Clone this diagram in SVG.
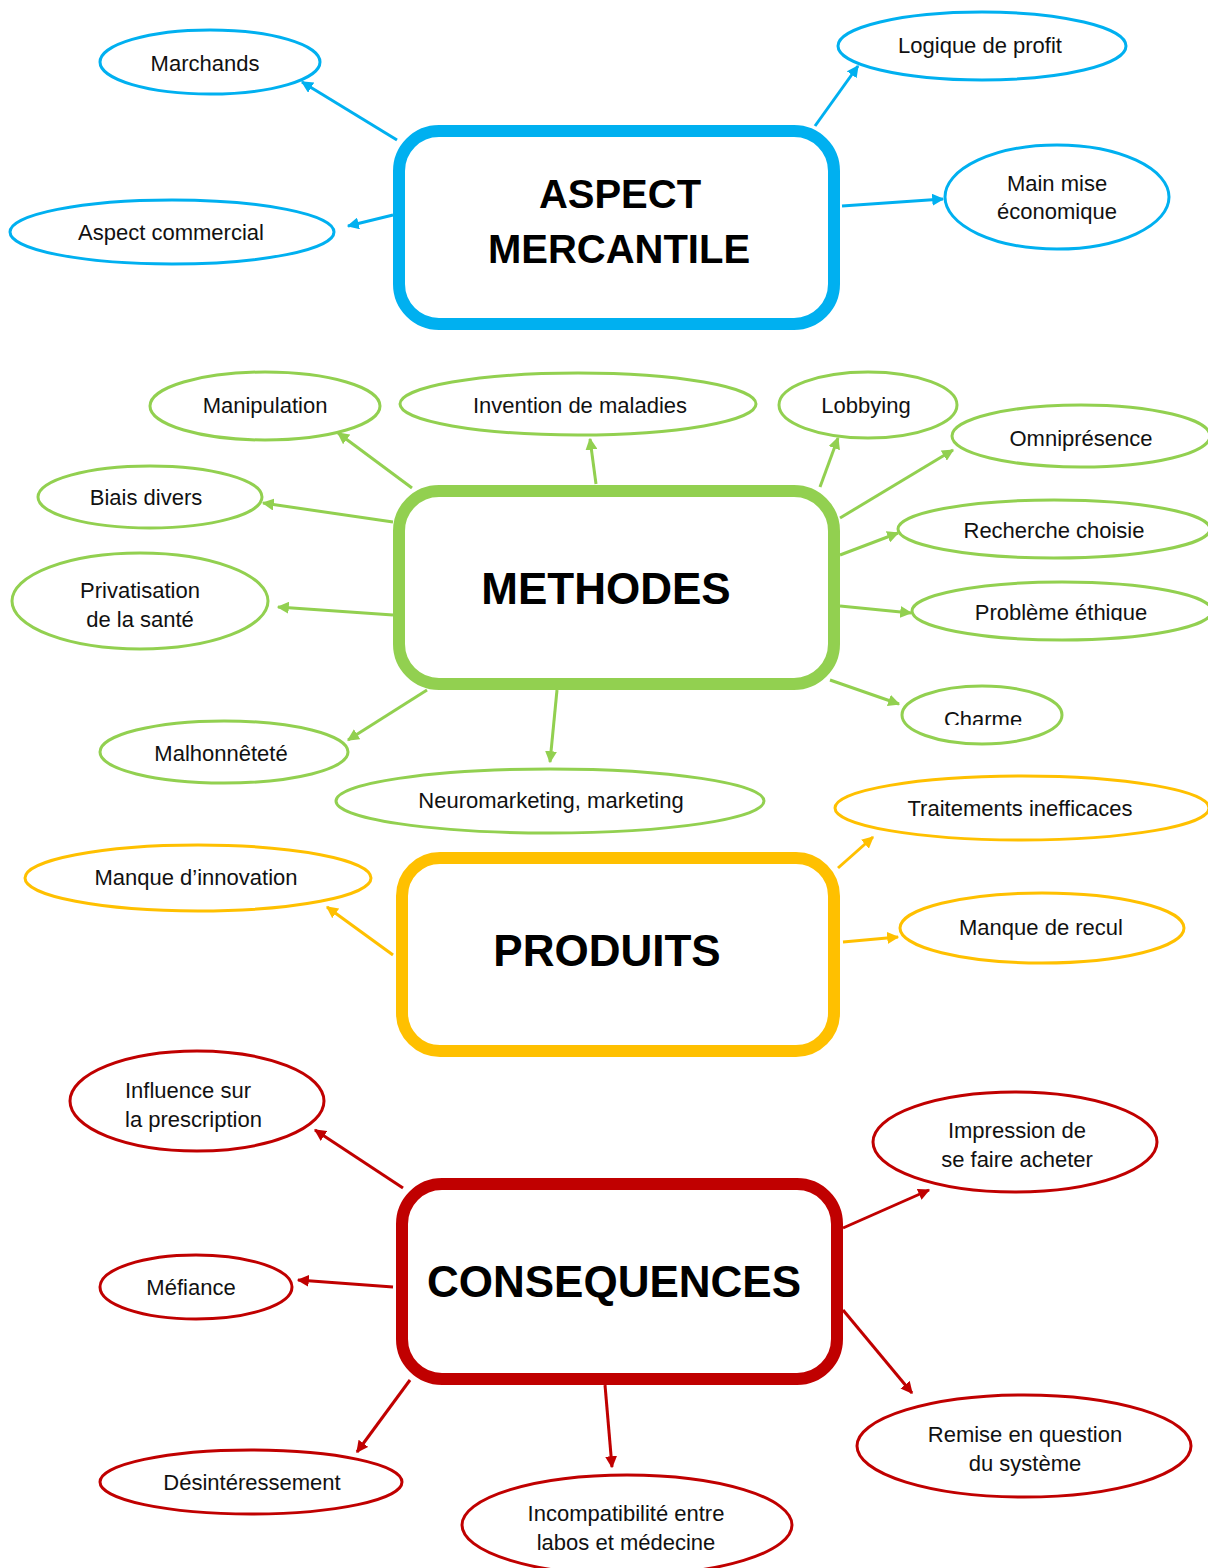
<svg xmlns="http://www.w3.org/2000/svg" width="1208" height="1568" viewBox="0 0 1208 1568">
<style>
  text { font-family: "Liberation Sans", Arial, sans-serif; fill: #111; }
  .lbl { font-size: 22px; text-anchor: middle; }
  .ttl { font-size: 44px; font-weight: bold; text-anchor: middle; fill: #000; }
  .box { fill: #fff; stroke-width: 12; }
  .ell { fill: #fff; stroke-width: 3; }
  .con { fill: none; stroke-width: 3; }
  .blue { stroke: #00B0F0; }
  .green { stroke: #92D050; }
  .yellow { stroke: #FFC000; }
  .red { stroke: #C00000; }
</style>
<defs>
  <marker id="ab" viewBox="0 0 10 10" refX="9" refY="5" markerWidth="4" markerHeight="4" orient="auto"><path d="M0,0 L10,5 L0,10 Z" fill="#00B0F0"/></marker>
  <marker id="ag" viewBox="0 0 10 10" refX="9" refY="5" markerWidth="4" markerHeight="4" orient="auto"><path d="M0,0 L10,5 L0,10 Z" fill="#92D050"/></marker>
  <marker id="ay" viewBox="0 0 10 10" refX="9" refY="5" markerWidth="4" markerHeight="4" orient="auto"><path d="M0,0 L10,5 L0,10 Z" fill="#FFC000"/></marker>
  <marker id="ar" viewBox="0 0 10 10" refX="9" refY="5" markerWidth="4" markerHeight="4" orient="auto"><path d="M0,0 L10,5 L0,10 Z" fill="#C00000"/></marker>
  <clipPath id="clipPE"><rect x="900" y="590" width="308" height="31"/></clipPath>
  <clipPath id="clipCh"><rect x="900" y="695" width="170" height="30"/></clipPath>
</defs>
<rect width="1208" height="1568" fill="#fff"/>

<g id="connectors">
  <g class="con blue">
    <line x1="397" y1="140" x2="302" y2="82" marker-end="url(#ab)"/>
    <line x1="393" y1="215" x2="348" y2="226" marker-end="url(#ab)"/>
    <line x1="815" y1="126" x2="858" y2="66" marker-end="url(#ab)"/>
    <line x1="842" y1="206" x2="943" y2="199" marker-end="url(#ab)"/>
  </g>
  <g class="con green">
    <line x1="412" y1="488" x2="338" y2="433" marker-end="url(#ag)"/>
    <line x1="596" y1="484" x2="590" y2="439" marker-end="url(#ag)"/>
    <line x1="820" y1="487" x2="838" y2="438" marker-end="url(#ag)"/>
    <line x1="840" y1="518" x2="953" y2="450" marker-end="url(#ag)"/>
    <line x1="840" y1="555" x2="898" y2="533" marker-end="url(#ag)"/>
    <line x1="840" y1="606" x2="911" y2="613" marker-end="url(#ag)"/>
    <line x1="830" y1="680" x2="899" y2="704" marker-end="url(#ag)"/>
    <line x1="393" y1="522" x2="263" y2="503" marker-end="url(#ag)"/>
    <line x1="393" y1="615" x2="278" y2="607" marker-end="url(#ag)"/>
    <line x1="427" y1="690" x2="348" y2="740" marker-end="url(#ag)"/>
    <line x1="557" y1="690" x2="550" y2="762" marker-end="url(#ag)"/>
  </g>
  <g class="con yellow">
    <line x1="838" y1="868" x2="873" y2="837" marker-end="url(#ay)"/>
    <line x1="393" y1="955" x2="327" y2="907" marker-end="url(#ay)"/>
    <line x1="843" y1="942" x2="898" y2="937" marker-end="url(#ay)"/>
  </g>
  <g class="con red">
    <line x1="403" y1="1188" x2="315" y2="1130" marker-end="url(#ar)"/>
    <line x1="393" y1="1287" x2="298" y2="1280" marker-end="url(#ar)"/>
    <line x1="410" y1="1380" x2="357" y2="1452" marker-end="url(#ar)"/>
    <line x1="605" y1="1385" x2="612" y2="1467" marker-end="url(#ar)"/>
    <line x1="843" y1="1228" x2="929" y2="1190" marker-end="url(#ar)"/>
    <line x1="843" y1="1310" x2="912" y2="1393" marker-end="url(#ar)"/>
  </g>
</g>

<!-- ASPECT MERCANTILE -->
<g id="aspect-mercantile">
  <rect class="box blue" x="399" y="131" width="435" height="193" rx="40"/>
  <text class="ttl" style="font-size:40px" x="620" y="208">ASPECT</text>
  <text class="ttl" style="font-size:40px" x="619" y="263">MERCANTILE</text>
</g>
<g id="marchands"><ellipse class="ell blue" cx="210" cy="62" rx="110" ry="32"/><text class="lbl" x="205" y="71">Marchands</text></g>
<g id="aspect-commercial"><ellipse class="ell blue" cx="172" cy="232" rx="162" ry="32"/><text class="lbl" x="171" y="240">Aspect commercial</text></g>
<g id="logique-profit"><ellipse class="ell blue" cx="982" cy="46" rx="144" ry="34"/><text class="lbl" x="980" y="53">Logique de profit</text></g>
<g id="main-mise"><ellipse class="ell blue" cx="1057" cy="197" rx="112" ry="52"/><text class="lbl" x="1057" y="191">Main mise</text><text class="lbl" x="1057" y="219">économique</text></g>

<!-- METHODES -->
<g id="methodes">
  <rect class="box green" x="399" y="491" width="435" height="193" rx="40"/>
  <text class="ttl" x="606" y="604">METHODES</text>
</g>
<g id="manipulation"><ellipse class="ell green" cx="265" cy="406" rx="115" ry="34"/><text class="lbl" x="265" y="413">Manipulation</text></g>
<g id="invention"><ellipse class="ell green" cx="578" cy="404" rx="178" ry="31"/><text class="lbl" x="580" y="413">Invention de maladies</text></g>
<g id="lobbying"><ellipse class="ell green" cx="868" cy="405" rx="89" ry="33"/><text class="lbl" x="866" y="413">Lobbying</text></g>
<g id="omnipresence"><ellipse class="ell green" cx="1081" cy="436" rx="129" ry="31"/><text class="lbl" x="1081" y="446">Omniprésence</text></g>
<g id="recherche"><ellipse class="ell green" cx="1054" cy="529" rx="156" ry="29"/><text class="lbl" x="1054" y="538">Recherche choisie</text></g>
<g id="probleme"><ellipse class="ell green" cx="1062" cy="611" rx="150" ry="29"/><text class="lbl" x="1061" y="620" clip-path="url(#clipPE)">Problème éthique</text></g>
<g id="charme"><ellipse class="ell green" cx="982" cy="715" rx="80" ry="29"/><text class="lbl" x="983" y="727" clip-path="url(#clipCh)">Charme</text></g>
<g id="biais"><ellipse class="ell green" cx="150" cy="497" rx="112" ry="31"/><text class="lbl" x="146" y="505">Biais divers</text></g>
<g id="privatisation"><ellipse class="ell green" cx="140" cy="601" rx="128" ry="48"/><text class="lbl" x="140" y="598">Privatisation</text><text class="lbl" x="140" y="627">de la santé</text></g>
<g id="malhonnetete"><ellipse class="ell green" cx="224" cy="752" rx="124" ry="31"/><text class="lbl" x="221" y="761">Malhonnêteté</text></g>
<g id="neuromarketing"><ellipse class="ell green" cx="550" cy="801" rx="214" ry="32"/><text class="lbl" x="551" y="808">Neuromarketing, marketing</text></g>

<!-- PRODUITS -->
<g id="produits">
  <rect class="box yellow" x="402" y="858" width="432" height="193" rx="38"/>
  <text class="ttl" x="607" y="966">PRODUITS</text>
</g>
<g id="traitements"><ellipse class="ell yellow" cx="1022" cy="808" rx="187" ry="32"/><text class="lbl" x="1020" y="816">Traitements inefficaces</text></g>
<g id="manque-innovation"><ellipse class="ell yellow" cx="198" cy="878" rx="173" ry="33"/><text class="lbl" x="196" y="885">Manque d’innovation</text></g>
<g id="manque-recul"><ellipse class="ell yellow" cx="1042" cy="928" rx="142" ry="35"/><text class="lbl" x="1041" y="935">Manque de recul</text></g>

<!-- CONSEQUENCES -->
<g id="consequences">
  <rect class="box red" x="402" y="1184" width="435" height="195" rx="40"/>
  <text class="ttl" x="614" y="1297">CONSEQUENCES</text>
</g>
<g id="influence"><ellipse class="ell red" cx="197" cy="1101" rx="127" ry="50"/><text class="lbl" style="text-anchor:start" x="125" y="1098">Influence sur</text><text class="lbl" style="text-anchor:start" x="125" y="1127">la prescription</text></g>
<g id="mefiance"><ellipse class="ell red" cx="196" cy="1287" rx="96" ry="32"/><text class="lbl" x="191" y="1295">Méfiance</text></g>
<g id="desinteressement"><ellipse class="ell red" cx="251" cy="1482" rx="151" ry="32"/><text class="lbl" x="252" y="1490">Désintéressement</text></g>
<g id="incompatibilite"><ellipse class="ell red" cx="627" cy="1525" rx="165" ry="50"/><text class="lbl" x="626" y="1521">Incompatibilité entre</text><text class="lbl" x="626" y="1550">labos et médecine</text></g>
<g id="impression"><ellipse class="ell red" cx="1015" cy="1142" rx="142" ry="50"/><text class="lbl" x="1017" y="1138">Impression de</text><text class="lbl" x="1017" y="1167">se faire acheter</text></g>
<g id="remise"><ellipse class="ell red" cx="1024" cy="1446" rx="167" ry="51"/><text class="lbl" x="1025" y="1442">Remise en question</text><text class="lbl" x="1025" y="1471">du système</text></g>
</svg>
